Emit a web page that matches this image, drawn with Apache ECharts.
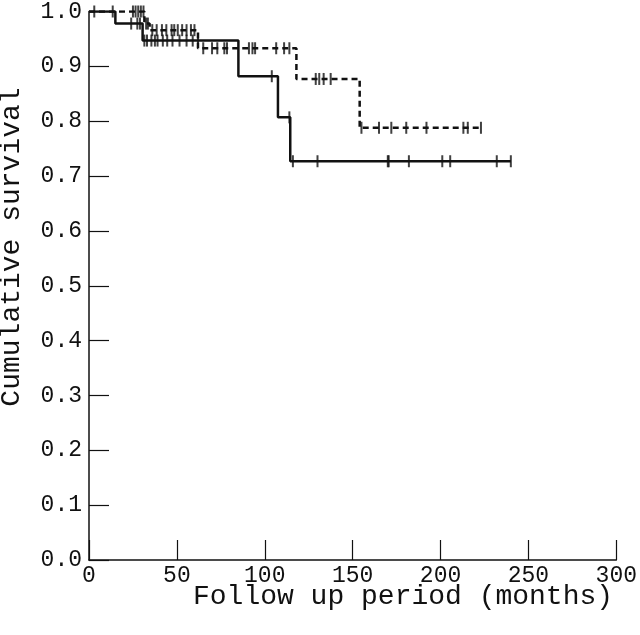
<!DOCTYPE html>
<html>
<head>
<meta charset="utf-8">
<script src="https://cdn.jsdelivr.net/npm/echarts@6/dist/echarts.min.js"></script>
<style>
html,body{margin:0;padding:0;background:#fff;}
#chart{width:640px;height:635px;}
</style>
</head>
<body>
<div id="chart"></div>
<script>
// Kaplan-Meier step points (time in months, cumulative survival)
var solidTime = [0, 15, 30.5, 85, 107.5, 114.5, 240];
var solidSurv = [1.0, 0.978, 0.947, 0.882, 0.807, 0.727, 0.727];
var dashedTime = [0, 31.5, 34.5, 62, 118, 154, 224];
var dashedSurv = [1.0, 0.978, 0.966, 0.933, 0.877, 0.788, 0.788];
// Censored observations (months)
var solidCensor = [24, 27.5, 29, 31.5, 33, 35.5, 37.5, 39, 42, 44.5, 47.5, 51.5, 55.5, 59, 62, 104, 114, 116, 130, 170, 170.5, 182, 201, 205.5, 232, 240];
var dashedCensor = [3, 13.5, 25, 26.5, 28, 29.5, 31, 32.5, 33.5, 36, 38.5, 41.5, 44, 47, 48.5, 50.5, 53, 55.5, 58, 60, 65, 70, 73, 77, 78.5, 91, 93, 94.5, 106.5, 111, 114, 129, 131, 133.5, 137.5, 155, 165, 172, 180.5, 192, 213, 215.5, 223];
// Axis ticks and titles
var xTicks = [0, 50, 100, 150, 200, 250, 300];
var yTicks = [0, 0.1, 0.2, 0.3, 0.4, 0.5, 0.6, 0.7, 0.8, 0.9, 1.0];
var xTitle = 'Follow up period (months)';
var yTitle = 'Cumulative survival';

function pairs(t, s) { return t.map(function (v, i) { return [v, s[i]]; }); }
function survAt(t, times, surv) {
  var v = surv[0];
  for (var i = 0; i < times.length; i++) { if (times[i] <= t) v = surv[i]; }
  return v;
}
function censorPts(c, times, surv) { return c.map(function (t) { return [t, survAt(t, times, surv)]; }); }

var FONT = '"Liberation Mono", "DejaVu Sans Mono", monospace';
var INK = '#111';

var chart = echarts.init(document.getElementById('chart'), null, {renderer: 'canvas'});
chart.setOption({
  animation: false,
  backgroundColor: '#fff',
  grid: {left: 89, right: 21, top: 7, bottom: 75, containLabel: false},
  xAxis: {
    type: 'value', min: xTicks[0], max: xTicks[xTicks.length - 1], interval: 50,
    axisLine: {show: true, onZero: false, lineStyle: {color: INK, width: 1.5}},
    axisTick: {show: true, inside: true, length: 20, lineStyle: {color: INK, width: 1.2}},
    axisLabel: {color: INK, fontFamily: FONT, fontSize: 23, margin: 4},
    splitLine: {show: false}
  },
  yAxis: {
    type: 'value', min: yTicks[0], max: yTicks[yTicks.length - 1], interval: 0.1,
    axisLine: {show: true, onZero: false, lineStyle: {color: INK, width: 1.5}},
    axisTick: {show: true, inside: true, length: 20, lineStyle: {color: INK, width: 1.2}},
    axisLabel: {color: INK, fontFamily: FONT, fontSize: 23, margin: 7,
      formatter: function (v) { return v.toFixed(1); }},
    splitLine: {show: false}
  },
  graphic: [
    {type: 'text', left: 193, top: 583,
      style: {text: xTitle, fill: INK, font: '28px ' + FONT}},
    {type: 'text', x: 12, y: 247, rotation: Math.PI / 2,
      style: {text: yTitle, fill: INK, font: '28px ' + FONT, align: 'center', verticalAlign: 'middle'}}
  ],
  series: [
    {type: 'line', step: 'end', data: pairs(solidTime, solidSurv), showSymbol: false,
      lineStyle: {color: INK, width: 2.5}},
    {type: 'line', step: 'end', data: pairs(dashedTime, dashedSurv), showSymbol: false,
      lineStyle: {color: INK, width: 2.5, type: [6, 4]}},
    {type: 'scatter', data: censorPts(solidCensor, solidTime, solidSurv), symbol: 'rect',
      symbolSize: [2, 12], itemStyle: {color: INK}},
    {type: 'scatter', data: censorPts(dashedCensor, dashedTime, dashedSurv), symbol: 'rect',
      symbolSize: [2, 12], itemStyle: {color: INK}}
  ]
});
</script>
</body>
</html>
